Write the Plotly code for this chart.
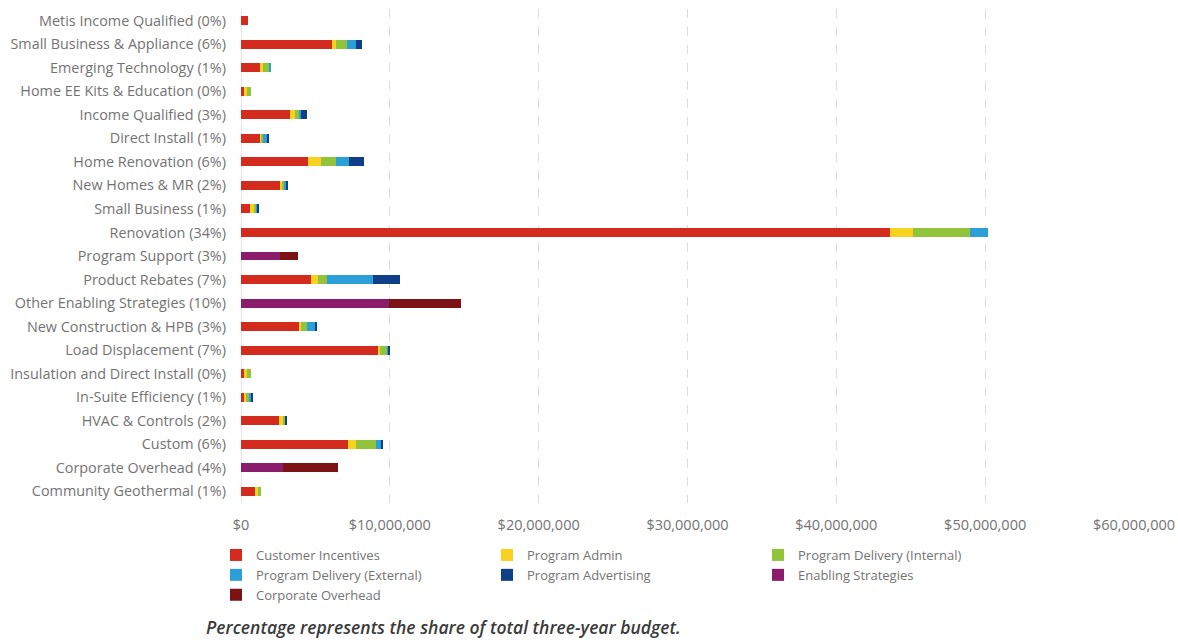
import plotly.graph_objects as go

# Program categories, listed top to bottom
categories = [
    "Metis Income Qualified (0%)",
    "Small Business & Appliance (6%)",
    "Emerging Technology (1%)",
    "Home EE Kits & Education (0%)",
    "Income Qualified (3%)",
    "Direct Install (1%)",
    "Home Renovation (6%)",
    "New Homes & MR (2%)",
    "Small Business (1%)",
    "Renovation (34%)",
    "Program Support (3%)",
    "Product Rebates (7%)",
    "Other Enabling Strategies (10%)",
    "New Construction & HPB (3%)",
    "Load Displacement (7%)",
    "Insulation and Direct Install (0%)",
    "In-Suite Efficiency (1%)",
    "HVAC & Controls (2%)",
    "Custom (6%)",
    "Corporate Overhead (4%)",
    "Community Geothermal (1%)",
]

# Three-year budget by cost type (dollars)
customer_incentives = [450000, 6100000, 1300000, 250000, 3300000, 1300000, 4500000, 2650000, 600000, 43600000,
                       0, 4700000, 0, 3900000, 9270000, 200000, 250000, 2550000, 7200000, 0, 1000000]
program_admin = [0, 300000, 150000, 120000, 350000, 50000, 850000, 100000, 270000, 1550000,
                 0, 450000, 0, 120000, 100000, 200000, 80000, 250000, 500000, 0, 120000]
delivery_internal = [0, 700000, 450000, 300000, 300000, 150000, 1000000, 150000, 150000, 3850000,
                     0, 600000, 0, 400000, 450000, 300000, 250000, 200000, 1400000, 0, 250000]
delivery_external = [0, 600000, 50000, 0, 100000, 300000, 900000, 100000, 100000, 1200000,
                     0, 3100000, 0, 600000, 50000, 0, 100000, 0, 350000, 0, 0]
program_advertising = [0, 450000, 0, 0, 400000, 50000, 1000000, 150000, 100000, 0,
                       0, 1800000, 0, 50000, 150000, 0, 100000, 100000, 50000, 0, 0]
enabling_strategies = [0, 0, 0, 0, 0, 0, 0, 0, 0, 0,
                       2650000, 0, 9950000, 0, 0, 0, 0, 0, 0, 2850000, 0]
corporate_overhead = [0, 0, 0, 0, 0, 0, 0, 0, 0, 0,
                      1200000, 0, 4850000, 0, 0, 0, 0, 0, 0, 3650000, 0]

series = [
    ("Customer Incentives", customer_incentives, "#d42b1f"),
    ("Program Admin", program_admin, "#f7d21e"),
    ("Program Delivery (Internal)", delivery_internal, "#92c43b"),
    ("Program Delivery (External)", delivery_external, "#2a9fd8"),
    ("Program Advertising", program_advertising, "#0f3f88"),
    ("Enabling Strategies", enabling_strategies, "#8a1c6b"),
    ("Corporate Overhead", corporate_overhead, "#7c1214"),
]

x_tick_values = [0, 10000000, 20000000, 30000000, 40000000, 50000000, 60000000]
x_tick_labels = ["$0", "$10,000,000", "$20,000,000", "$30,000,000",
                 "$40,000,000", "$50,000,000", "$60,000,000"]

FONT = "'Open Sans', sans-serif"
GRAY = "#737373"

W, H = 1178, 644
ML, MR, MT, MB = 241, 44, 9, 141
PW, PH = W - ML - MR, H - MT - MB

fig = go.Figure()
for name, values, color in series:
    fig.add_trace(go.Bar(
        y=categories, x=values, name=name, orientation="h",
        marker=dict(color=color, line=dict(width=0)),
    ))

fig.update_layout(
    barmode="stack",
    bargap=0.62,
    width=W, height=H,
    margin=dict(l=ML, r=MR, t=MT, b=MB, autoexpand=False),
    paper_bgcolor="white", plot_bgcolor="white",
    font=dict(family=FONT, size=14, color=GRAY),
    legend=dict(
        orientation="h",
        traceorder="normal",
        xref="container", yref="container",
        x=216 / W, y=1 - 540 / H,
        xanchor="left", yanchor="top",
        entrywidth=226, entrywidthmode="pixels",
        font=dict(family=FONT, size=13, color=GRAY),
        tracegroupgap=0, itemwidth=30,
    ),
    showlegend=True,
)

fig.update_xaxes(
    range=[0, 60000000],
    automargin=False,
    tickmode="array",
    tickvals=x_tick_values,
    ticktext=x_tick_labels,
    showgrid=True, gridcolor="#dcdcdc", griddash="dash", gridwidth=1,
    zeroline=True, zerolinecolor="#e6e6e6", zerolinewidth=1,
    showline=False, ticks="",
    ticklabelstandoff=11,
    tickfont=dict(family=FONT, size=14.5, color=GRAY),
)
fig.update_yaxes(
    autorange="reversed",
    automargin=False,
    showgrid=False, showline=False, ticks="",
    ticklabelstandoff=14,
    tickfont=dict(family=FONT, size=14.4, color=GRAY),
)

fig.add_annotation(
    text="<i>Percentage represents the share of total three-year budget.</i>",
    xref="paper", yref="paper",
    x=(204 - ML) / PW, y=(H - MB - 627) / PH,
    xanchor="left", yanchor="middle",
    showarrow=False,
    font=dict(family=FONT, size=17.5, color="#3a3a3a", weight=600),
)

fig.write_html("out.html")
